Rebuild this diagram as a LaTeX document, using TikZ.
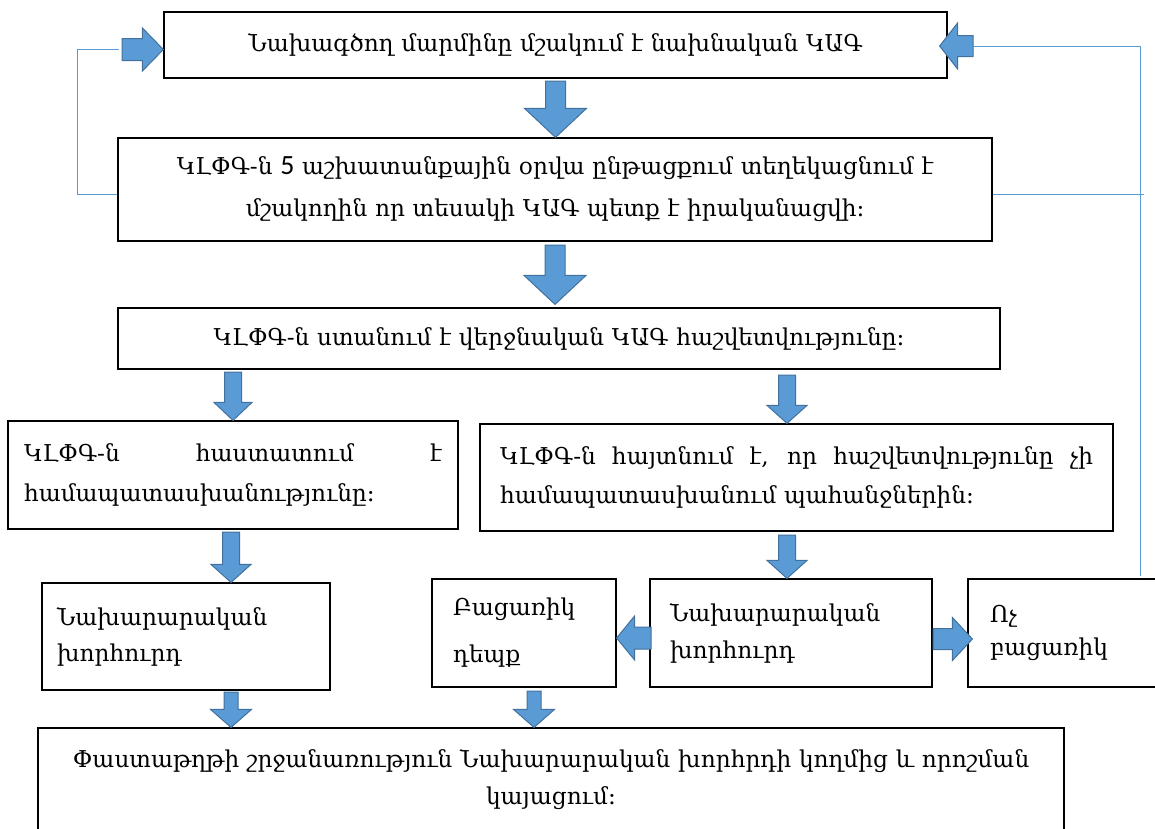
\documentclass[tikz,border=0pt]{standalone}
\usepackage{fontspec}
\setmainfont{DejaVu Serif}
\newfontfamily\digitfont[Scale=1.2]{Carlito}
\usetikzlibrary{calc}

\definecolor{arrowfill}{HTML}{5B9BD5}
\definecolor{arrowline}{HTML}{41719C}
\definecolor{feedbackline}{HTML}{5B9BD5}

\newcommand{\armfont}[1]{\fontsize{23.2}{#1}\selectfont}

% block arrows: #1 tail, #2 tip, #3 half shaft, #4 half head, #5 head length
\newcommand{\blkdown}[5]{%
  \path[blockarrow] let \p1=(#1), \p2=(#2) in
    (\x1-#3,\y1) -- (\x1+#3,\y1) -- (\x1+#3,\y2+#5) -- (\x1+#4,\y2+#5)
    -- (\x1,\y2) -- (\x1-#4,\y2+#5) -- (\x1-#3,\y2+#5) -- cycle;}
\newcommand{\blkleft}[5]{%
  \path[blockarrow] let \p1=(#1), \p2=(#2) in
    (\x1,\y1+#3) -- (\x1,\y1-#3) -- (\x2+#5,\y1-#3) -- (\x2+#5,\y1-#4)
    -- (\x2,\y1) -- (\x2+#5,\y1+#4) -- (\x2+#5,\y1+#3) -- cycle;}
\newcommand{\blkright}[5]{%
  \path[blockarrow] let \p1=(#1), \p2=(#2) in
    (\x1,\y1+#3) -- (\x1,\y1-#3) -- (\x2-#5,\y1-#3) -- (\x2-#5,\y1-#4)
    -- (\x2,\y1) -- (\x2-#5,\y1+#4) -- (\x2-#5,\y1+#3) -- cycle;}

\begin{document}
\begin{tikzpicture}[
    x=1pt, y=-1pt,
    box/.style={
      draw,
      line width=1.2pt,
      inner ysep=0pt
    },
    blockarrow/.style={
      fill=arrowfill,
      draw=arrowline,
      line width=1pt,
      line join=miter
    },
    feedback/.style={
      draw=feedbackline,
      line width=1pt
    },
  ]
  \path[use as bounding box] (0,0) rectangle (1155,828);
  \clip (0,0) rectangle (1155,828);

  %%%%%%%%%%%%%%%% BOXES %%%%%%%%%%%%%%%%
  \node[box, text width=751pt, inner xsep=16pt, minimum height=66pt, align=center, font=\armfont{28}] (plan) at (555.5,45)
    {Նախագծող մարմինը մշակում է նախնական ԿԱԳ};

  \node[box, text width=842pt, inner xsep=16pt, minimum height=103pt, align=center, font=\armfont{42}] (notify) at (555,189.5)
    {ԿԼՓԳ-ն {\digitfont 5} աշխատանքային օրվա ընթացքում տեղեկացնում է\\ մշակողին որ տեսակի ԿԱԳ պետք է իրականացվի:};

  \node[box, text width=850pt, inner xsep=16pt, minimum height=61pt, align=center, font=\armfont{28}] (report) at (559,338.5)
    {ԿԼՓԳ-ն ստանում է վերջնական ԿԱԳ հաշվետվությունը:};

  \node[box, text width=418pt, inner xsep=16pt, minimum height=108pt, align=justify, font=\armfont{40}] (approve) at (233,475)
    {ԿԼՓԳ-ն հաստատում է\linebreak համապատասխանությունը:};

  \node[box, text width=593pt, inner xsep=20pt, minimum height=107pt, align=justify, font=\armfont{39}] (reject) at (796.5,477.5)
    {ԿԼՓԳ-ն հայտնում է, որ հաշվետվությունը չի\linebreak համապատասխանում պահանջներին:};

  \node[box, text width=258pt, inner xsep=15pt, minimum height=107pt, align=left, font=\armfont{36}] (councilL) at (186,636.5)
    {Նախարարական\\ խորհուրդ};

  \node[box, text width=142pt, inner xsep=21pt, minimum height=108pt, align=left, font=\armfont{47}] (special) at (524,633)
    {Բացառիկ\\ դեպք};

  \node[box, text width=242pt, inner xsep=20pt, minimum height=108pt, align=left, font=\armfont{37}] (councilR) at (791,633)
    {Նախարարական\\ խորհուրդ};

  \node[box, text width=153pt, inner xsep=22pt, minimum height=108pt, align=left, font=\armfont{33}] (nonspecial) at (1066.5,633)
    {Ոչ\\ բացառիկ};

  \node[box, text width=994pt, inner xsep=16pt, minimum height=104pt, align=center, font=\armfont{37}] (final) at (551,780)
    {Փաստաթղթի շրջանառություն Նախարարական խորհրդի կողմից և որոշման\\ կայացում:};

  %%%%%%%%%%%%%%%% HELPING COORDINATES %%%%%%%%%%%%%%%%
  \coordinate (plan-notify) at (555.5,81);
  \coordinate (notify-report) at (555,245);
  \coordinate (report-approve) at (233,372);
  \coordinate (report-reject) at (787,375);
  \coordinate (approve-councilL) at (231,532);
  \coordinate (reject-councilR) at (787,535);
  \coordinate (councilL-final) at (231,692);
  \coordinate (special-final) at (534,691);
  \coordinate (councilR-special) at (651,638);
  \coordinate (councilR-nonspecial) at (933,639);
  \coordinate (notify-plan-left) at (122,49.5);
  \coordinate (nonspecial-plan-right) at (973,46);
  \coordinate (nonspecial-up) at (1140,576);

  %%%%%%%%%%%%%%%% ARROWS %%%%%%%%%%%%%%%%
  \blkdown{plan-notify}{notify.north}{10pt}{31pt}{29pt}
  \blkdown{notify-report}{[yshift=3pt]report.north}{10pt}{31pt}{29pt}

  \blkdown{report-approve}{approve.north}{8.5pt}{19pt}{18pt}
  \blkdown{report-reject}{reject.north}{8.5pt}{20pt}{18pt}
  \blkdown{approve-councilL}{councilL.north}{8.5pt}{20pt}{18pt}
  \blkdown{reject-councilR}{councilR.north}{8.5pt}{20pt}{18pt}
  \blkdown{councilL-final}{final.north}{7pt}{20.5pt}{18pt}
  \blkdown{special-final}{final.north}{7pt}{20.5pt}{18pt}

  \blkleft{councilR-special}{special.east}{11pt}{22pt}{18pt}
  \blkright{councilR-nonspecial}{[xshift=5pt]nonspecial.west}{10.5pt}{21.5pt}{20pt}

  \blkright{notify-plan-left}{plan.west}{11pt}{21.5pt}{21pt}
  \blkleft{nonspecial-plan-right}{[xshift=-8pt]plan.east}{10.5pt}{23pt}{18pt}

  %%%%%%%%%%%%%%%% FEEDBACK LINES %%%%%%%%%%%%%%%%
  \path[feedback] ([yshift=-4.5pt]notify.west) -| (77,49.5) -- ([xshift=-3pt]notify-plan-left);
  \path[feedback] ([yshift=-4.5pt]notify.east) -- ++(151,0);
  \path[feedback] (nonspecial-up) |- (nonspecial-plan-right);

\end{tikzpicture}
\end{document}
